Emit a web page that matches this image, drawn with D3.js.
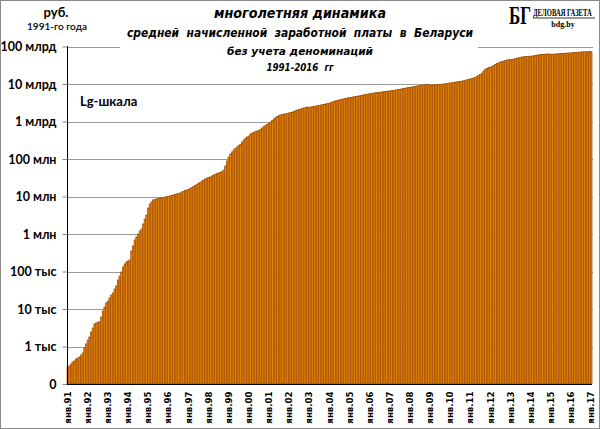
<!DOCTYPE html>
<html><head><meta charset="utf-8">
<script src="https://cdn.jsdelivr.net/npm/d3@7"></script>
<style>
html,body{margin:0;padding:0;background:#fff;}
svg{display:block;}
</style></head>
<body>
<script>
// Month names and x tick labels
const monthNames = ["янв","фев","мар","апр","май","июн","июл","авг","сен","окт","ноя","дек"];
const xTickLabels = ["янв.91","янв.92","янв.93","янв.94","янв.95","янв.96","янв.97","янв.98","янв.99","янв.00",
  "янв.01","янв.02","янв.03","янв.04","янв.05","янв.06","янв.07","янв.08","янв.09","янв.10",
  "янв.11","янв.12","янв.13","янв.14","янв.15","янв.16","янв.17"];
const yTickValues = [1e2,1e3,1e4,1e5,1e6,1e7,1e8,1e9,1e10,1e11];
const yTickLabels = ["0","1 тыс","10 тыс","100 тыс","1 млн","10 млн","100 млн","1 млрд","10 млрд","100 млрд"];

// Average monthly wage, rubles of 1991 (no denominations), Jan 1991 .. Jan 2017
const wages = [
  284,302,341,386,410,465,493,525,593,671,912,1167,                                   // 1991
  1490,1790,2440,3110,3980,4240,4500,4500,6120,8850,1.13e4,1.45e4,                    // 1992
  1.63e4,1.96e4,2.36e4,2.67e4,3.41e4,4.10e4,5.93e4,7.59e4,9.70e4,1.32e5,1.58e5,1.79e5, // 1993
  1.91e5,2.03e5,3.52e5,4.79e5,6.92e5,8.32e5,1.0e6,1.20e6,1.36e6,1.85e6,2.51e6,3.21e6,   // 1994
  4.93e6,6.31e6,7.13e6,8.07e6,8.32e6,8.57e6,8.85e6,9.12e6,9.23e6,9.46e6,9.70e6,9.89e6,   // 1995
  1.01e7,1.03e7,1.06e7,1.10e7,1.13e7,1.17e7,1.20e7,1.24e7,1.32e7,1.36e7,1.45e7,1.49e7,   // 1996
  1.54e7,1.63e7,1.74e7,1.85e7,1.96e7,2.09e7,2.22e7,2.36e7,2.59e7,2.75e7,2.93e7,3.11e7,   // 1997
  3.21e7,3.31e7,3.52e7,3.74e7,3.86e7,4.10e7,4.24e7,4.37e7,4.65e7,5.09e7,6.50e7,8.85e7,   // 1998
  1.13e8,1.36e8,1.54e8,1.74e8,1.91e8,2.09e8,2.29e8,2.44e8,2.84e8,3.21e8,3.52e8,3.86e8,   // 1999
  4.10e8,4.65e8,4.93e8,5.09e8,5.41e8,5.58e8,5.75e8,6.12e8,6.71e8,7.36e8,7.82e8,8.32e8,   // 2000
  8.85e8,9.70e8,1.06e9,1.17e9,1.28e9,1.36e9,1.45e9,1.49e9,1.54e9,1.58e9,1.58e9,1.63e9,   // 2001
  1.69e9,1.74e9,1.79e9,1.85e9,1.96e9,2.03e9,2.09e9,2.15e9,2.22e9,2.29e9,2.36e9,2.44e9,   // 2002
  2.36e9,2.44e9,2.48e9,2.54e9,2.59e9,2.65e9,2.70e9,2.75e9,2.82e9,2.88e9,2.93e9,3.02e9,   // 2003
  3.05e9,3.21e9,3.35e9,3.48e9,3.59e9,3.67e9,3.77e9,3.86e9,3.95e9,4.06e9,4.16e9,4.29e9,   // 2004
  4.29e9,4.40e9,4.50e9,4.58e9,4.67e9,4.75e9,4.84e9,4.93e9,5.09e9,5.19e9,5.28e9,5.41e9,   // 2005
  5.48e9,5.58e9,5.69e9,5.79e9,5.86e9,5.93e9,6.01e9,6.12e9,6.19e9,6.31e9,6.38e9,6.50e9,   // 2006
  6.50e9,6.62e9,6.75e9,6.84e9,6.92e9,7.10e9,7.23e9,7.36e9,7.54e9,7.68e9,7.82e9,8.02e9,   // 2007
  8.07e9,8.22e9,8.47e9,8.63e9,8.79e9,8.95e9,9.12e9,9.29e9,9.40e9,9.53e9,9.64e9,9.75e9,   // 2008
  9.12e9,9.23e9,9.40e9,9.46e9,9.53e9,9.64e9,9.75e9,9.89e9,1.00e10,1.01e10,1.03e10,1.05e10, // 2009
  1.06e10,1.08e10,1.10e10,1.12e10,1.14e10,1.15e10,1.17e10,1.19e10,1.22e10,1.26e10,1.29e10,1.32e10, // 2010
  1.36e10,1.40e10,1.45e10,1.49e10,1.58e10,1.69e10,1.79e10,1.96e10,2.22e10,2.44e10,2.59e10,2.75e10, // 2011
  2.75e10,2.93e10,3.11e10,3.31e10,3.52e10,3.67e10,3.86e10,3.98e10,4.10e10,4.24e10,4.37e10,4.50e10, // 2012
  4.42e10,4.53e10,4.65e10,4.75e10,4.88e10,5.02e10,5.15e10,5.25e10,5.31e10,5.38e10,5.45e10,5.51e10, // 2013
  5.48e10,5.58e10,5.69e10,5.79e10,5.90e10,6.01e10,6.12e10,6.15e10,6.19e10,6.24e10,6.27e10,6.31e10, // 2014
  6.19e10,6.24e10,6.27e10,6.31e10,6.35e10,6.43e10,6.50e10,6.55e10,6.59e10,6.62e10,6.67e10,6.71e10, // 2015
  6.71e10,6.79e10,6.87e10,6.92e10,6.97e10,7.05e10,7.13e10,7.18e10,7.23e10,7.23e10,7.26e10,7.31e10, // 2016
  7.26e10                                                                              // янв.2017
];

const categories = wages.map((v,i)=> monthNames[i%12] + "." + String((91 + Math.floor(i/12)) % 100).padStart(2,"0"));
const data = categories.map((c,i)=>({cat:c, value:wages[i]}));

const W = 600, H = 429;
const svg = d3.select("body").append("svg").attr("width",W).attr("height",H);

const x = d3.scaleBand().domain(categories).range([67, 592]).padding(0);
const y = d3.scaleLog().domain([1e2, 1e11]).range([384, 46.5]);

// gridlines
svg.append("g").selectAll("line").data(yTickValues.slice(1)).join("line")
  .attr("x1",67).attr("x2",593)
  .attr("y1",d=>Math.round(y(d))+0.5).attr("y2",d=>Math.round(y(d))+0.5)
  .attr("stroke","#9a9a9a").attr("stroke-width",1);

// white title background
svg.append("rect").attr("x",120).attr("y",1).attr("width",358).attr("height",76).attr("fill","#fff");

// bars
svg.append("g").selectAll("rect").data(data).join("rect")
  .attr("x",d=>x(d.cat)).attr("width",x.bandwidth())
  .attr("y",d=>y(d.value)).attr("height",d=>384 - y(d.value))
  .attr("fill","#E6880F").attr("stroke","#A85000").attr("stroke-width",0.75);

// y axis
const yAxis = svg.append("g").attr("transform","translate(67.5,0)")
  .call(d3.axisLeft(y).tickValues(yTickValues).tickFormat((d,i)=>yTickLabels[i]).tickSize(5).tickPadding(6));
yAxis.select(".domain").attr("stroke","#000").attr("d","M0,46V384.5");
yAxis.selectAll(".tick line").attr("stroke","#888");
yAxis.selectAll(".tick text").attr("font-family","Lato, 'Open Sans', sans-serif").attr("font-weight","bold")
  .attr("font-size",12.5).attr("fill","#000");

// x axis
const janCats = categories.filter((c,i)=>i%12===0);
const xAxis = svg.append("g").attr("transform","translate(0,384.5)")
  .call(d3.axisBottom(x).tickValues(janCats).tickFormat((d,i)=>xTickLabels[i]).tickSize(0));
xAxis.select(".domain").attr("stroke","#000").attr("d","M67,0H592");
xAxis.selectAll(".tick text")
  .attr("font-family","'DejaVu Sans', Verdana, sans-serif").attr("font-weight","bold").attr("font-size",8.6)
  .attr("fill","#000")
  .attr("text-anchor","end").attr("transform","rotate(-90)").attr("x",-7).attr("y",0).attr("dy","0.35em");

// left headings
svg.append("text").attr("x",56).attr("y",17).attr("text-anchor","middle")
  .attr("font-family","Lato, sans-serif").attr("font-weight","bold").attr("font-size",13).text("руб.");
svg.append("text").attr("x",57).attr("y",30).attr("text-anchor","middle")
  .attr("font-family","Lato, sans-serif").attr("font-weight","600").attr("font-size",10).text("1991-го года");
svg.append("text").attr("x",80).attr("y",106)
  .attr("font-family","Lato, sans-serif").attr("font-weight","bold").attr("font-size",13).text("Lg-шкала");

// title
const titleLines = [
  {t:"многолетняя динамика", y:18, s:13.5, w:172},
  {t:"средней  начисленной  заработной  платы  в  Беларуси", y:37, s:11.5, w:346},
  {t:"без учета деноминаций", y:55, s:11, w:146},
  {t:"1991-2016  гг", y:71, s:10.5, w:67}
];
svg.append("g").selectAll("text").data(titleLines).join("text")
  .attr("x",300).attr("y",d=>d.y).attr("text-anchor","middle")
  .attr("font-family","'DejaVu Sans', Verdana, sans-serif").attr("font-weight","bold").attr("font-style","italic")
  .attr("font-size",d=>d.s).attr("textLength",d=>d.w).attr("lengthAdjust","spacingAndGlyphs")
  .style("white-space","pre").text(d=>d.t);

// logo (condensed via horizontal scaling)
svg.append("text").attr("transform","translate(509,24) scale(0.68,1)")
  .attr("font-family","'Liberation Serif', 'DejaVu Serif', serif").attr("font-weight","bold").attr("font-size",25)
  .text("БГ");
svg.append("text").attr("transform","translate(533,16) scale(0.66,1)")
  .attr("font-family","'Liberation Serif', serif").attr("font-weight","bold").attr("font-size",10)
  .text("ДЕЛОВАЯ ГАЗЕТА");
svg.append("line").attr("x1",533).attr("x2",595).attr("y1",18).attr("y2",18).attr("stroke","#000").attr("stroke-width",0.8);
svg.append("text").attr("x",563).attr("y",27).attr("text-anchor","middle")
  .attr("font-family","'Liberation Serif', serif").attr("font-weight","bold").attr("font-size",8).text("bdg.by");

// outer border
svg.append("rect").attr("x",0.5).attr("y",0.5).attr("width",W-1).attr("height",H-1)
  .attr("fill","none").attr("stroke","#8a8a8a").attr("stroke-width",1);
</script>
</body></html>
